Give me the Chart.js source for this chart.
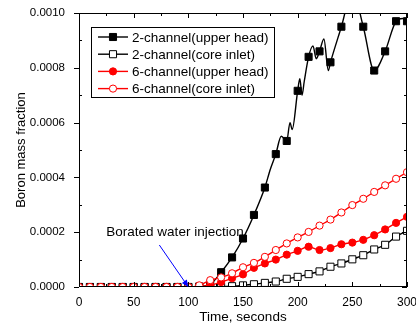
<!DOCTYPE html>
<html>
<head>
<meta charset="utf-8">
<script src="https://cdn.jsdelivr.net/npm/chart.js@4.4.0/dist/chart.umd.min.js"></script>
<style>
  html, body { margin: 0; padding: 0; background: #fff; }
  #wrap { width: 416px; height: 330px; }
</style>
</head>
<body>
<div id="wrap"><canvas id="chart" width="416" height="330"></canvas></div>
<script>
const FONT = '"Liberation Sans", Arial, Helvetica, sans-serif';

// Time (s), one marker every 10 s
const times = [0, 10, 20, 30, 40, 50, 60, 70, 80, 90, 100, 110, 120, 130, 140, 150,
               160, 170, 180, 190, 200, 210, 220, 230, 240, 250, 260, 270, 280, 290, 300];

// 2-channel upper head has extra points for the wiggles between markers
const upperHeadTimes = [0, 10, 20, 30, 40, 50, 60, 70, 80, 90, 100, 110, 120, 130, 140, 150,
                        160, 170, 175, 180, 185, 190, 193, 195, 200, 202, 204, 206, 210, 214,
                        217, 220, 224, 228, 230, 240, 250, 260, 270, 280, 290, 296, 300];
const twoChUpperHead = [0, 0, 0, 0, 0, 0, 0, 0, 0, 0, 0, 0.000002, 0.00001, 0.000054, 0.000108, 0.000177,
                        0.000263, 0.000363, 0.00043, 0.000485, 0.00055, 0.000533, 0.0006, 0.000575, 0.000716, 0.00076, 0.0007, 0.00075, 0.00084, 0.00088,
                        0.000833, 0.00086, 0.000905, 0.00079, 0.00082, 0.00095, 0.00108, 0.00095, 0.00079, 0.00086, 0.00097, 0.00098, 0.00097];

const twoChCoreInlet = [0, 0, 0, 0, 0, 0, 0, 0, 0, 0, 0, 0, 0, 0.000001, 0.000003, 0.000006,
                        0.00001, 0.000015, 0.00002, 0.00003, 0.000037, 0.000047, 0.000057, 0.000074, 0.000086, 0.000101,
                        0.000116, 0.000137, 0.000154, 0.000184, 0.000205];

const sixChUpperHead = [0, 0, 0, 0, 0, 0, 0, 0, 0, 0, 0, 0.000002, 0.000007, 0.000018, 0.000032, 0.000046,
                        0.00007, 0.000086, 0.0001, 0.000118, 0.000132, 0.000147, 0.000135, 0.000142, 0.000156, 0.000162,
                        0.000172, 0.000189, 0.00021, 0.000234, 0.000256];

const sixChCoreInlet = [0, 0, 0, 0, 0, 0, 0, 0, 0, 0, 0, 0.000006, 0.000025, 0.000035, 0.00005, 0.000072,
                        0.000088, 0.00011, 0.000135, 0.000159, 0.000181, 0.000201, 0.000224, 0.000246, 0.000272, 0.000299,
                        0.000322, 0.000347, 0.000371, 0.000395, 0.000419];

const seriesNames = ['2-channel(upper head)', '2-channel(core inlet)', '6-channel(upper head)', '6-channel(core inlet)'];

const injectionTime = 100;
const annotationText = 'Borated water injection';

function toPoints(xs, ys) {
    return xs.map((t, i) => ({ x: t, y: ys[i] }));
}

// markers only on the 10 s grid
function markerRadius(r) {
    return ctx => (ctx.raw && ctx.raw.x % 10 === 0 ? r : 0);
}

const datasets = [
    { label: seriesNames[0], data: toPoints(upperHeadTimes, twoChUpperHead), borderColor: '#000', backgroundColor: '#000',
      pointStyle: 'rect', pointRadius: markerRadius(5), order: 4 },
    { label: seriesNames[1], data: toPoints(times, twoChCoreInlet), borderColor: '#000', backgroundColor: '#fff',
      pointStyle: 'rect', pointRadius: markerRadius(5), order: 3 },
    { label: seriesNames[2], data: toPoints(times, sixChUpperHead), borderColor: '#ff0000', backgroundColor: '#ff0000',
      pointStyle: 'circle', pointRadius: markerRadius(3.6), order: 2 },
    { label: seriesNames[3], data: toPoints(times, sixChCoreInlet), borderColor: '#ff0000', backgroundColor: '#fff',
      pointStyle: 'circle', pointRadius: markerRadius(3.6), order: 1 }
];
datasets.forEach(ds => {
    ds.borderWidth = 1.4;
    ds.pointBorderWidth = 1;
    ds.pointBorderColor = ds.borderColor;
    ds.pointBackgroundColor = ds.backgroundColor;
    ds.cubicInterpolationMode = 'monotone';
    ds.clip = 0;
    ds.fill = false;
});

// Frame with inward ticks, the boxed legend and the arrow annotation
const framePlugin = {
    id: 'framePlugin',
    afterDraw(chart) {
        const { ctx, chartArea: a, scales: { x, y } } = chart;
        ctx.save();
        ctx.strokeStyle = '#000';
        ctx.lineWidth = 1;
        ctx.strokeRect(a.left + 0.5, a.top + 0.5, a.right - a.left - 1, a.bottom - a.top - 1);

        ctx.beginPath();
        for (let v = 0; v <= 300; v += 25) {
            const px = Math.round(x.getPixelForValue(v)) + 0.5;
            const len = v % 50 === 0 ? 5 : 3;
            ctx.moveTo(px, a.bottom); ctx.lineTo(px, a.bottom - len);
            ctx.moveTo(px, a.top); ctx.lineTo(px, a.top + len);
        }
        for (let k = 0; k <= 10; k++) {
            const py = Math.round(y.getPixelForValue(k * 0.0001)) + 0.5;
            const major = k % 2 === 0;
            if (major) { ctx.moveTo(a.left, py); ctx.lineTo(a.left - 5, py); }
            else { ctx.moveTo(a.left, py); ctx.lineTo(a.left + 3, py); }
            ctx.moveTo(a.right, py); ctx.lineTo(a.right - (major ? 5 : 3), py);
        }
        ctx.stroke();

        // legend
        const lx = a.left + 12, ly = a.top + 14, lw = 183, lh = 70;
        ctx.fillStyle = '#fff';
        ctx.fillRect(lx, ly, lw, lh);
        ctx.strokeRect(lx + 0.5, ly + 0.5, lw, lh);
        ctx.font = '13.5px ' + FONT;
        ctx.textAlign = 'left';
        ctx.textBaseline = 'middle';
        chart.data.datasets.forEach((ds, i) => {
            const cy = ly + 10 + i * 17.2;
            ctx.strokeStyle = ds.borderColor;
            ctx.lineWidth = 1.4;
            ctx.beginPath();
            ctx.moveTo(lx + 7, cy); ctx.lineTo(lx + 37, cy);
            ctx.stroke();
            ctx.fillStyle = ds.backgroundColor;
            ctx.lineWidth = 1;
            Chart.helpers.drawPoint(ctx, { pointStyle: ds.pointStyle, radius: ds.pointStyle === 'rect' ? 5 : 3.6, borderWidth: 1, rotation: 0 }, lx + 22, cy);
            ctx.fillStyle = '#000';
            ctx.fillText(ds.label, lx + 41, cy + 1);
        });

        // annotation arrow pointing at injection start
        const tipX = x.getPixelForValue(injectionTime), tipY = y.getPixelForValue(0);
        const sx = tipX - 29, sy = tipY - 42;
        const ang = Math.atan2(tipY - sy, tipX - sx);
        ctx.strokeStyle = '#0000ff';
        ctx.fillStyle = '#0000ff';
        ctx.lineWidth = 1;
        ctx.beginPath();
        ctx.moveTo(sx, sy); ctx.lineTo(tipX - 5 * Math.cos(ang), tipY - 5 * Math.sin(ang));
        ctx.stroke();
        ctx.beginPath();
        ctx.moveTo(tipX, tipY);
        ctx.lineTo(tipX - 7 * Math.cos(ang) + 3 * Math.sin(ang), tipY - 7 * Math.sin(ang) - 3 * Math.cos(ang));
        ctx.lineTo(tipX - 7 * Math.cos(ang) - 3 * Math.sin(ang), tipY - 7 * Math.sin(ang) + 3 * Math.cos(ang));
        ctx.closePath();
        ctx.fill();

        ctx.fillStyle = '#000';
        ctx.font = '13.5px ' + FONT;
        ctx.fillText(annotationText, x.getPixelForValue(25), y.getPixelForValue(0.0002));
        ctx.restore();
    }
};

new Chart(document.getElementById('chart'), {
    type: 'line',
    data: { datasets: datasets },
    options: {
        responsive: false,
        animation: false,
        devicePixelRatio: 1,
        layout: { padding: { top: 13, right: 9, left: 0, bottom: 0 } },
        plugins: { legend: { display: false }, tooltip: { enabled: false } },
        scales: {
            x: {
                type: 'linear',
                min: 0,
                max: 300,
                grid: { display: false },
                border: { display: false },
                ticks: { stepSize: 50, color: '#000', padding: 0, maxRotation: 0, font: { family: FONT, size: 12 } },
                title: { display: true, text: 'Time, seconds', color: '#000', padding: { top: 0, bottom: 5 }, font: { family: FONT, size: 13.5 } },
                afterFit(scale) { scale.height = 43; scale.paddingLeft = 0; scale.paddingRight = 0; }
            },
            y: {
                min: 0,
                max: 0.001,
                grid: { display: false },
                border: { display: false },
                ticks: { stepSize: 0.0002, color: '#000', padding: 6, font: { family: FONT, size: 11.5 },
                         callback: v => v.toFixed(4) },
                title: { display: true, text: 'Boron mass fraction', color: '#000', padding: { top: 14, bottom: 0 }, font: { family: FONT, size: 13 } },
                afterFit(scale) { scale.width = 79; }
            }
        }
    },
    plugins: [framePlugin]
});
</script>
</body>
</html>
